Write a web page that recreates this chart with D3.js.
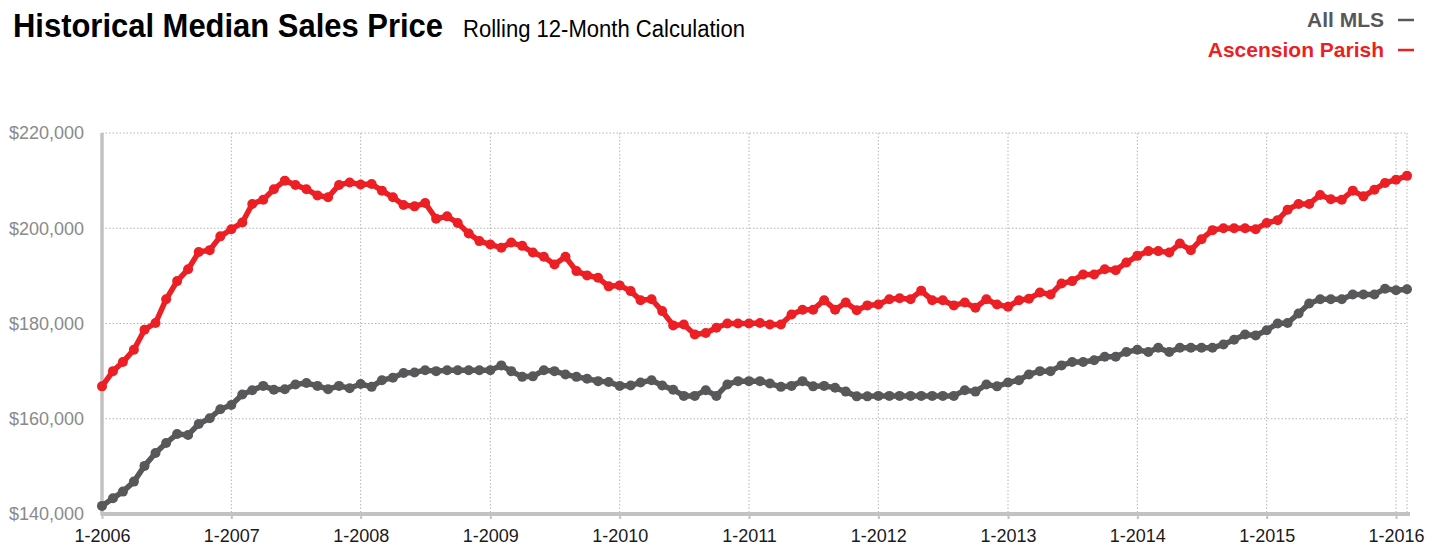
<!DOCTYPE html>
<html>
<head>
<meta charset="utf-8">
<script src="https://cdn.jsdelivr.net/npm/d3@7"></script>
<style>
  html, body { margin: 0; padding: 0; background: #fff; }
  svg { display: block; font-family: "Liberation Sans", Arial, Helvetica, sans-serif; }
</style>
</head>
<body>
<svg id="chart" width="1440" height="547"></svg>
<script>
// ---------- DATA ----------
const titleText = "Historical Median Sales Price";
const subtitleText = "Rolling 12-Month Calculation";
const startYear = 2006, startMonth = 0, monthCount = 122; // 1-2006 .. 2-2016
const seriesNames = ["All MLS", "Ascension Parish"];
const seriesColors = ["#58585a", "#ec1f24"];

const allMLS = [
  141.7, 143.3, 144.7, 146.8, 150.1, 152.8, 154.9, 156.8, 156.6, 158.9, 160.1, 162.0,
  162.9, 165.1, 166.0, 166.9, 166.1, 166.2, 167.2, 167.5, 166.9, 166.2, 166.9, 166.4,
  167.3, 166.7, 168.1, 168.6, 169.6, 169.7, 170.2, 170.0, 170.2, 170.2, 170.2, 170.2,
  170.2, 171.2, 170.0, 168.8, 168.9, 170.2, 170.0, 169.3, 168.8, 168.4, 167.9, 167.7,
  166.9, 167.0, 167.6, 168.1, 167.0, 166.1, 164.8, 164.8, 166.0, 164.8, 167.2, 167.9,
  167.9, 167.9, 167.4, 166.7, 166.9, 167.9, 166.8, 166.9, 166.5, 165.7, 164.7, 164.7,
  164.8, 164.8, 164.8, 164.8, 164.8, 164.8, 164.8, 164.8, 166.0, 165.7, 167.2, 166.8,
  167.6, 168.1, 169.3, 170.0, 170.0, 171.2, 171.9, 171.9, 172.3, 173.0, 173.0, 174.0,
  174.5, 174.0, 174.9, 174.0, 174.9, 174.9, 174.9, 174.9, 175.6, 176.6, 177.7, 177.5,
  178.6, 180.0, 180.1, 182.1, 184.2, 185.1, 185.1, 185.1, 186.1, 186.1, 186.1, 187.3,
  187.0, 187.2
].map(v => v * 1000);

const ascensionParish = [
  166.8, 170.0, 171.9, 174.5, 178.7, 180.1, 185.1, 188.9, 191.4, 195.0, 195.4, 198.3,
  199.8, 201.2, 205.1, 206.0, 208.2, 210.0, 209.1, 208.2, 206.9, 206.5, 209.1, 209.6,
  209.2, 209.3, 207.9, 206.5, 204.9, 204.6, 205.3, 202.0, 202.5, 201.1, 198.9, 197.3,
  196.6, 195.9, 197.0, 196.3, 194.9, 194.0, 192.4, 194.0, 191.0, 190.1, 189.6, 187.8,
  188.0, 186.8, 184.9, 185.1, 182.6, 179.6, 179.8, 177.7, 178.0, 179.1, 180.0, 180.0,
  180.0, 180.1, 179.8, 179.8, 181.9, 182.9, 182.9, 184.9, 182.9, 184.4, 182.8, 183.8,
  184.0, 185.1, 185.3, 185.1, 186.9, 184.9, 184.9, 183.8, 184.4, 183.3, 185.1, 184.0,
  183.5, 184.9, 185.2, 186.5, 186.1, 188.4, 188.9, 190.3, 190.3, 191.4, 191.2, 192.8,
  194.2, 195.2, 195.2, 194.9, 196.8, 195.4, 197.7, 199.6, 200.0, 200.0, 200.0, 199.8,
  201.1, 201.7, 203.9, 205.1, 205.1, 207.0, 206.1, 206.0, 207.9, 206.7, 208.1, 209.5,
  210.2, 211.0
].map(v => v * 1000);

const xTickLabels = ["1-2006","1-2007","1-2008","1-2009","1-2010","1-2011","1-2012","1-2013","1-2014","1-2015","1-2016"];
const yTicks = [140000, 160000, 180000, 200000, 220000];

// ---------- LAYOUT ----------
const W = 1440, H = 547;
const margin = { top: 133, right: 33, bottom: 33, left: 102 };
const svg = d3.select("#chart");

const dates = d3.range(monthCount).map(i => new Date(startYear, startMonth + i, 1));
const x = d3.scaleTime()
  .domain([dates[0], dates[dates.length - 1]])
  .range([margin.left, W - margin.right]);
const y = d3.scaleLinear()
  .domain([140000, 220000])
  .range([H - margin.bottom, margin.top]);

const tickDates = xTickLabels.map(s => { const [m, yr] = s.split("-"); return new Date(+yr, +m - 1, 1); });

// ---------- GRID ----------
const grid = svg.append("g");
grid.selectAll("line.hg").data(yTicks.filter(t => t > 140000)).join("line")
  .attr("x1", margin.left).attr("x2", W - margin.right)
  .attr("y1", d => y(d)).attr("y2", d => y(d))
  .attr("stroke", "#b4b4b4").attr("stroke-width", 1).attr("stroke-dasharray", "1.5,2");
const vgDates = tickDates.slice(1).concat([dates[dates.length - 1]]);
grid.selectAll("line.vg").data(vgDates).join("line")
  .attr("x1", d => x(d)).attr("x2", d => x(d))
  .attr("y1", y(220000)).attr("y2", y(140000))
  .attr("stroke", "#b4b4b4").attr("stroke-width", 1).attr("stroke-dasharray", "1.5,2");

// ---------- AXES ----------
const xAxis = d3.axisBottom(x)
  .tickValues(tickDates)
  .tickFormat((d, i) => xTickLabels[i])
  .tickSize(5).tickPadding(10);
const gx = svg.append("g").attr("transform", `translate(0,${y(140000)})`).call(xAxis);
gx.select(".domain").attr("stroke", "#c2c2c2").attr("stroke-width", 4)
  .attr("d", `M${margin.left - 1.5},0H${W - margin.right + 3}`);
gx.selectAll(".tick line").attr("stroke", "#c2c2c2").attr("stroke-width", 2);
gx.selectAll(".tick text").attr("fill", "#1a1a1a").attr("font-size", 18)
  .attr("font-family", "'Liberation Sans', Arial, sans-serif");

const yAxis = d3.axisLeft(y)
  .tickValues(yTicks)
  .tickFormat(d3.format("$,"))
  .tickSize(0).tickPadding(18);
const gy = svg.append("g").attr("transform", `translate(${margin.left},0)`).call(yAxis);
gy.select(".domain").attr("stroke", "#c2c2c2").attr("stroke-width", 3.5)
  .attr("d", `M0,${y(220000)}V${y(140000)}`);
gy.selectAll(".tick text").attr("fill", "#8a8a8a").attr("font-size", 18)
  .attr("font-family", "'Liberation Sans', Arial, sans-serif");

// ---------- SERIES ----------
const seriesData = [allMLS, ascensionParish];
const line = d3.line().x((d, i) => x(dates[i])).y(d => y(d));
seriesData.forEach((vals, si) => {
  const g = svg.append("g");
  g.append("path").datum(vals)
    .attr("d", line)
    .attr("fill", "none")
    .attr("stroke", seriesColors[si])
    .attr("stroke-width", 5.5)
    .attr("stroke-linejoin", "round");
  g.selectAll("circle").data(vals).join("circle")
    .attr("cx", (d, i) => x(dates[i]))
    .attr("cy", d => y(d))
    .attr("r", 5)
    .attr("fill", seriesColors[si]);
});

// ---------- TITLE ----------
svg.append("text")
  .attr("x", 13).attr("y", 37)
  .attr("font-size", 34).attr("font-weight", "bold")
  .attr("fill", "#000")
  .attr("textLength", 430).attr("lengthAdjust", "spacingAndGlyphs")
  .text(titleText);
svg.append("text")
  .attr("x", 463).attr("y", 37)
  .attr("font-size", 23)
  .attr("fill", "#000")
  .attr("textLength", 282).attr("lengthAdjust", "spacingAndGlyphs")
  .text(subtitleText);

// ---------- LEGEND ----------
const legend = svg.append("g");
seriesNames.forEach((name, i) => {
  const yy = 27 + i * 30;
  legend.append("text")
    .attr("x", 1384).attr("y", yy)
    .attr("text-anchor", "end")
    .attr("font-size", 21).attr("font-weight", "bold")
    .attr("fill", i === 0 ? "#58585a" : "#ec1f24")
    .text(name);
  legend.append("line")
    .attr("x1", 1398).attr("x2", 1414)
    .attr("y1", yy - 7).attr("y2", yy - 7)
    .attr("stroke", seriesColors[i]).attr("stroke-width", 2.5);
});
</script>
</body>
</html>
